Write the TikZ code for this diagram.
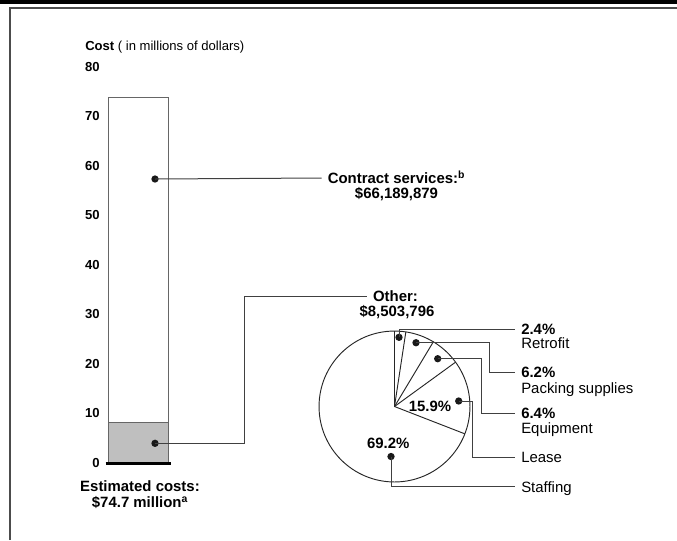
\documentclass[tikz,border=0pt]{standalone}
\usepackage{fontspec}
\setmainfont{Liberation Sans}
\begin{document}
\begin{tikzpicture}[x=0.75pt,y=-0.75pt,
  lab/.style={font=\fontsize{11.2}{13}\selectfont, inner sep=0pt, text height=8pt, text depth=0pt},
  blab/.style={lab, font=\fontsize{11.2}{13}\selectfont\bfseries},
  rlab/.style={lab, anchor=west, inner xsep=4.5pt},
  axlab/.style={font=\fontsize{9.8}{11}\selectfont\bfseries, inner sep=0pt, text height=7pt, text depth=0pt, anchor=east},
  dot/.style={circle, fill=black!90, inner sep=0pt, minimum size=5.5pt},
  lead/.style={draw=black!75, line width=0.75pt},
  wedge/.style={draw=black!85, line width=0.7pt}]
\useasboundingbox (0,0) rectangle (677,540);
% frame
\fill (0,0) rectangle (677,4);
\draw[black!70, line width=1pt] (10,540) -- (10,8) -- (677,8);

% title and scale
\node[lab, anchor=west, font=\fontsize{9.8}{11}\selectfont, text height=7pt] (ttl) at (85,45.7) {\textbf{Cost} ( in millions of dollars)};
\foreach \v in {0,10,...,80}
  \node[axlab] (ax\v) at (100,{462.5-4.95*\v}) {\v};

% bar
\fill[black!25] (108.5,422.3) rectangle (168,462.5);
\draw[black!60, line width=0.75pt] (108.5,462.5) rectangle (168,97.5);
\draw[black!60, line width=0.75pt] (108.5,422.3) -- (168,422.3);
\draw[line width=2.4pt] (105.5,463.5) -- (171,463.5);

\node[blab] (estLab1) at (140,486.5) {Estimated costs:};
\node[blab] (estLab2) at (140,502.5) {\$74.7 million\textsuperscript{a}};

% bar call-outs
\node[dot] (contDot) at (155,179) {};
\node[dot] (othDot) at (155,443.3) {};
\node[blab, inner xsep=4.5pt] (contLab1) at (396.5,178) {Contract services:\textsuperscript{b}};
\node[blab] (contLab2) at (396.5,193.5) {\$66,189,879};
\node[blab, inner xsep=4.5pt] (othLab1) at (395.5,296.5) {Other:};
\node[blab] (othLab2) at (397,311.5) {\$8,503,796};
\draw[lead] (contDot.center) -- (contLab1.west);
\draw[lead] (othDot.center) -- ++(89.5,0) |- (othLab1.west);

% pie
\coordinate (pc) at (394.5,406.5);
\draw[wedge] (pc) circle[radius=56.6pt];
\foreach \a in {90,81.36,59.04,36,-21.24}
  \draw[wedge] (pc) -- ++(\a:56.6pt);
\node[blab] (leasePct) at (430,406) {15.9\%};
\node[blab] (staffPct) at (388.3,442.7) {69.2\%};

\node[dot] (retroDot) at (399,337.3) {};
\node[dot] (packDot) at (416,342.7) {};
\node[dot] (equipDot) at (437.7,358.7) {};
\node[dot] (leaseDot) at (458.7,401) {};
\node[dot] (staffDot) at (391,456.5) {};

\node[rlab, font=\fontsize{11.2}{13}\selectfont\bfseries] (retroPct) at (515,329.5) {2.4\%};
\node[rlab] (retroName) at (515,343.3) {Retrofit};
\node[rlab, font=\fontsize{11.2}{13}\selectfont\bfseries] (packPct) at (515,372.5) {6.2\%};
\node[rlab] (packName) at (515,387.7) {Packing supplies};
\node[rlab, font=\fontsize{11.2}{13}\selectfont\bfseries] (equipPct) at (515,413.3) {6.4\%};
\node[rlab] (equipName) at (515,428.3) {Equipment};
\node[rlab] (leaseName) at (515,457.3) {Lease};
\node[rlab] (staffName) at (515,486.7) {Staffing};

\draw[lead] (retroDot.center) |- (retroPct.west);
\draw[lead] (packDot.center) -- ++(73.3,0) |- (packPct.west);
\draw[lead] (equipDot.center) -- ++(43.3,0) |- (equipPct.west);
\draw[lead] (leaseDot.center) -- ++(14,0) |- (leaseName.west);
\draw[lead] (staffDot.center) |- (staffName.west);
\end{tikzpicture}
\end{document}
